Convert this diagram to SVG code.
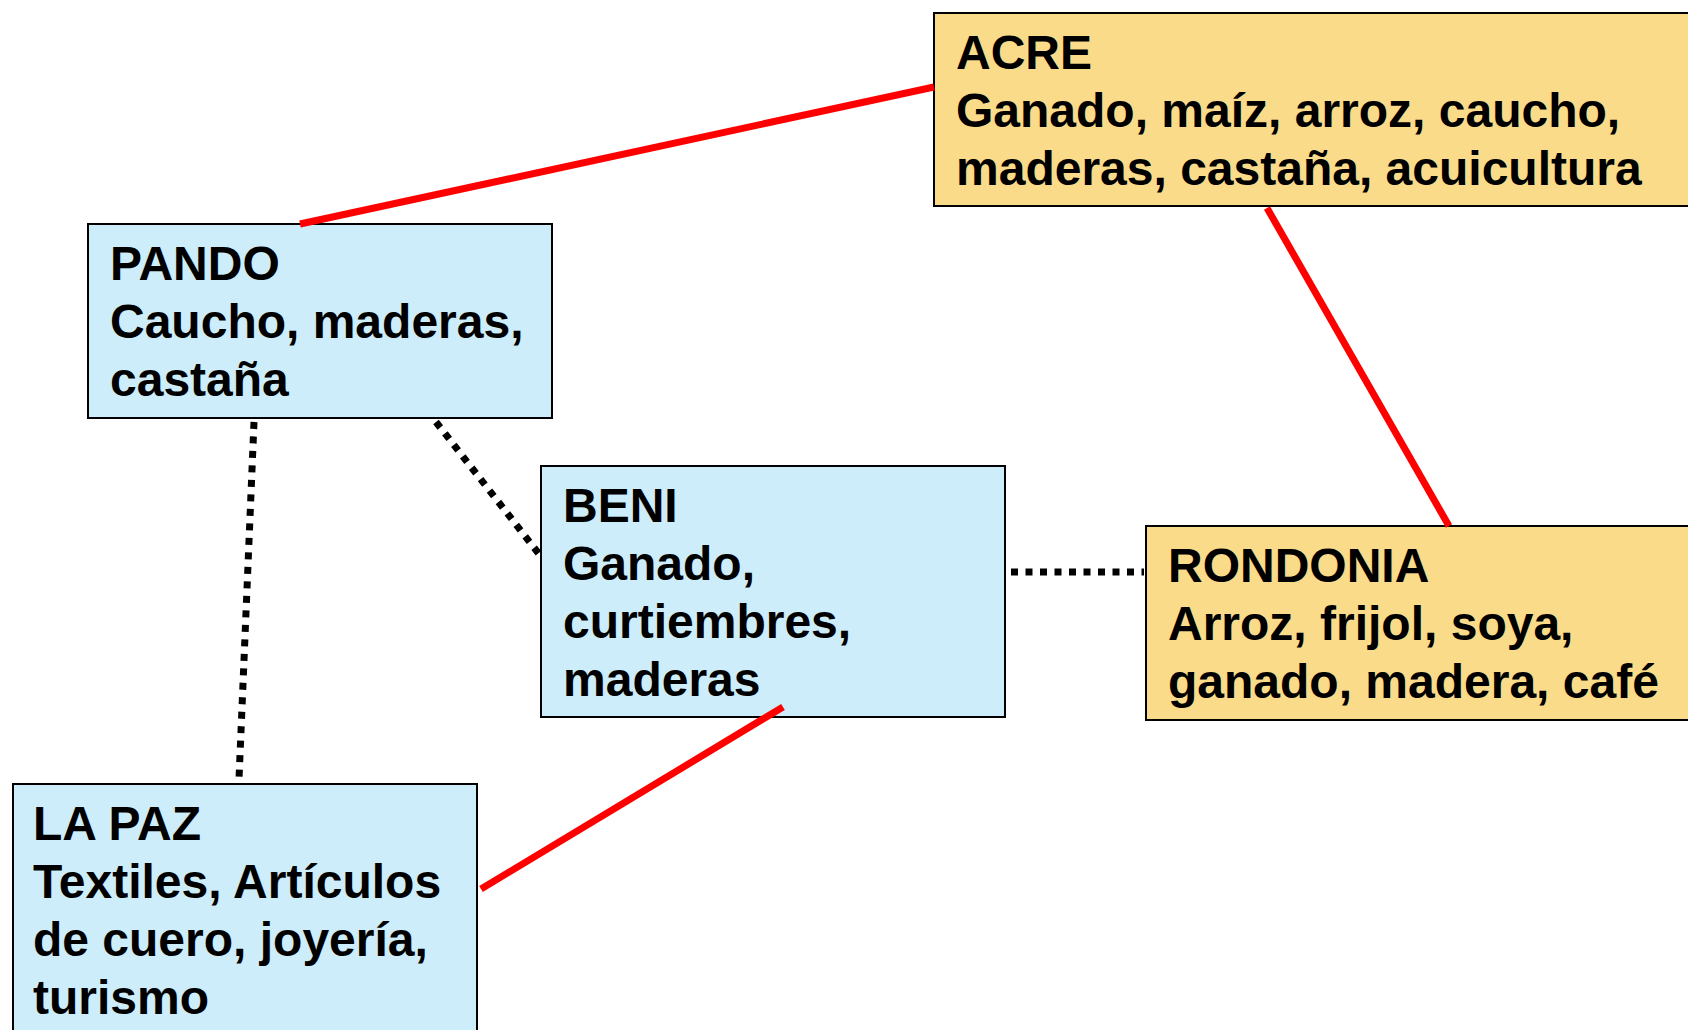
<svg xmlns="http://www.w3.org/2000/svg" width="1688" height="1030" viewBox="0 0 1688 1030">
<style>
.blue{fill:#CCEDF9;stroke:#000;stroke-width:2}
.yel{fill:#F9DB8A;stroke:#000;stroke-width:2}
.t{font-family:"Liberation Sans",Arial,sans-serif;font-weight:bold;font-size:48px;fill:#000}
.red{stroke:#FF0000;stroke-width:7;fill:none}
.dot{stroke:#000;stroke-width:7;stroke-dasharray:7 7.5;fill:none}
</style>
<rect width="1688" height="1030" fill="#fff"/>
<g id="acre">
<rect class="yel" x="934" y="13" width="770" height="193"/>
<text class="t" x="956" y="69">ACRE</text>
<text class="t" x="956" y="127">Ganado, maíz, arroz, caucho,</text>
<text class="t" x="956" y="185">maderas, castaña, acuicultura</text>
</g>
<g id="pando">
<rect class="blue" x="88" y="224" width="464" height="194"/>
<text class="t" x="110" y="280">PANDO</text>
<text class="t" x="110" y="338">Caucho, maderas,</text>
<text class="t" x="110" y="396">castaña</text>
</g>
<g id="beni">
<rect class="blue" x="541" y="466" width="464" height="251"/>
<text class="t" x="563" y="522">BENI</text>
<text class="t" x="563" y="580">Ganado,</text>
<text class="t" x="563" y="638">curtiembres,</text>
<text class="t" x="563" y="696">maderas</text>
</g>
<g id="rondonia">
<rect class="yel" x="1146" y="526" width="560" height="194"/>
<text class="t" x="1168" y="582">RONDONIA</text>
<text class="t" x="1168" y="640">Arroz, frijol, soya,</text>
<text class="t" x="1168" y="698">ganado, madera, café</text>
</g>
<g id="lapaz">
<rect class="blue" x="13" y="784" width="464" height="260"/>
<text class="t" x="33" y="840">LA PAZ</text>
<text class="t" x="33" y="898">Textiles, Artículos</text>
<text class="t" x="33" y="956">de cuero, joyería,</text>
<text class="t" x="33" y="1014">turismo</text>
</g>
<g id="connectors">
<line class="red" x1="934" y1="87" x2="300" y2="224"/>
<line class="red" x1="1267" y1="208" x2="1449" y2="526"/>
<line class="red" x1="783" y1="707" x2="481" y2="889"/>
<line class="dot" x1="254" y1="422" x2="239" y2="779"/>
<line class="dot" x1="436" y1="422" x2="539" y2="554"/>
<line class="dot" x1="1011" y1="572" x2="1144" y2="572"/>
</g>
</svg>
